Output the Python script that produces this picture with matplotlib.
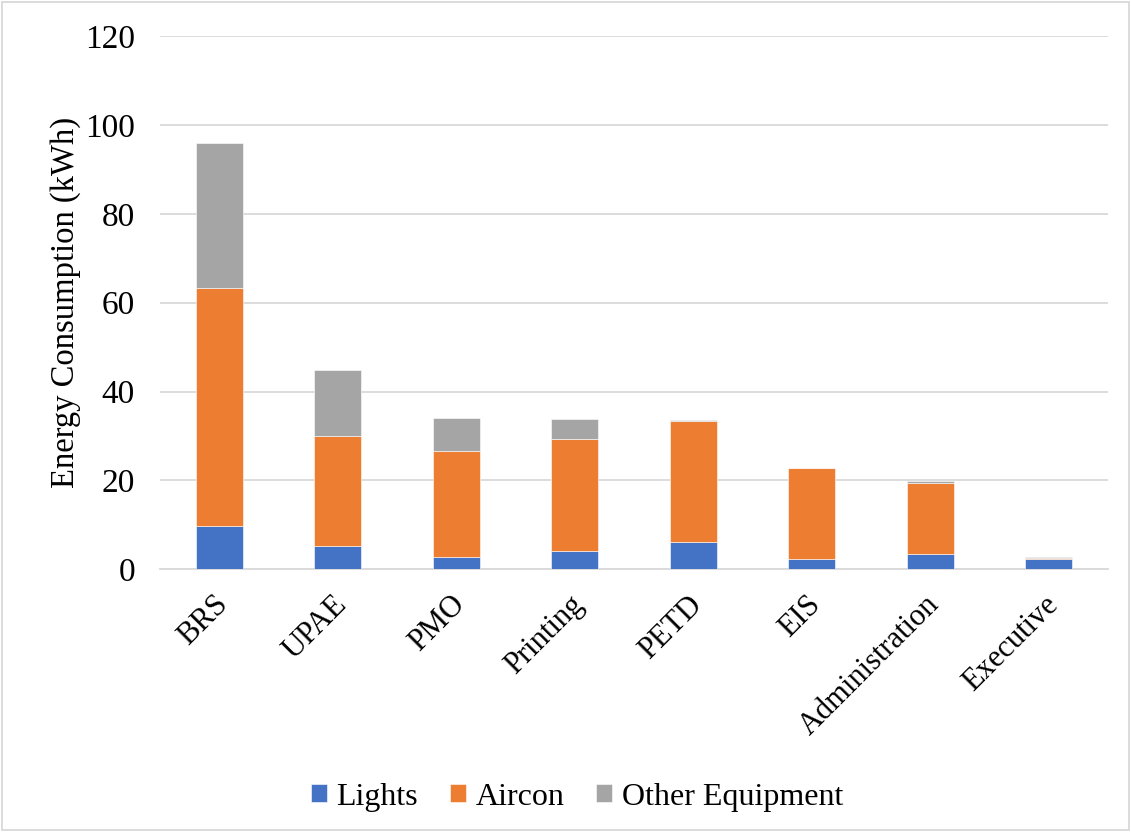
import numpy as np
import matplotlib.pyplot as plt
from matplotlib.patches import Rectangle
from matplotlib.transforms import ScaledTranslation

plt.rcParams["font.family"] = ["Liberation Serif", "DejaVu Serif"]

departments = ["BRS", "UPAE", "PMO", "Printing", "PETD", "EIS", "Administration", "Executive"]
lights = [9.8, 5.3, 2.8, 4.2, 6.1, 2.3, 3.5, 2.4]
aircon = [53.5, 24.8, 23.8, 25.1, 27.2, 20.4, 16.0, 0.1]
other_equipment = [32.6, 14.8, 7.5, 4.6, 0.3, 0.2, 0.3, 0.3]

colors = {"Lights": "#4472C4", "Aircon": "#ED7D31", "Other Equipment": "#A5A5A5"}

fig = plt.figure(figsize=(11.31, 8.32), dpi=100)
ax = fig.add_axes([0.1415, 0.3157, 0.8382, 0.641])

x = np.arange(len(departments))
width = 0.4
bottom = np.zeros(len(departments))
for name, values in [("Lights", lights), ("Aircon", aircon), ("Other Equipment", other_equipment)]:
    ax.bar(x, values, width, bottom=bottom, color=colors[name], label=name,
           edgecolor="white", linewidth=0.4, zorder=3)
    bottom += np.array(values)

ax.set_xlim(-0.5, len(departments) - 0.5)
ax.set_ylim(0, 120)
ax.set_yticks(range(0, 121, 20))
ax.yaxis.grid(True, color="#d9d9d9", linewidth=1.3, zorder=0)
ax.set_axisbelow(True)
for side in ["top", "right", "left"]:
    ax.spines[side].set_visible(False)
ax.spines["bottom"].set_color("#d9d9d9")
ax.spines["bottom"].set_linewidth(1.3)
ax.tick_params(axis="both", length=0)
ax.tick_params(axis="y", pad=18, labelsize=24)
ax.set_xticks(x)
ax.set_xticklabels(departments, rotation=45, ha="right", rotation_mode="anchor")
ax.tick_params(axis="x", pad=15, labelsize=22)
# pull the slanted labels slightly left so they end just past their ticks
for label in ax.get_xticklabels():
    label.set_transform(label.get_transform() + ScaledTranslation(-4 / 72, 0, fig.dpi_scale_trans))
ax.set_ylabel("Energy Consumption (kWh)", fontsize=23.5, labelpad=3)

fig.legend(loc="lower center", bbox_to_anchor=(0.51, -0.01), ncol=3, frameon=False,
           fontsize=23, handlelength=0.5, handleheight=0.5, handletextpad=0.3,
           columnspacing=1.0)

# thin frame around the whole figure
fig.patches.append(Rectangle((0.002, 0.002), 0.996, 0.996, transform=fig.transFigure,
                             fill=False, edgecolor="#d9d9d9", linewidth=1.3))

fig.savefig("out.png", dpi=100)
